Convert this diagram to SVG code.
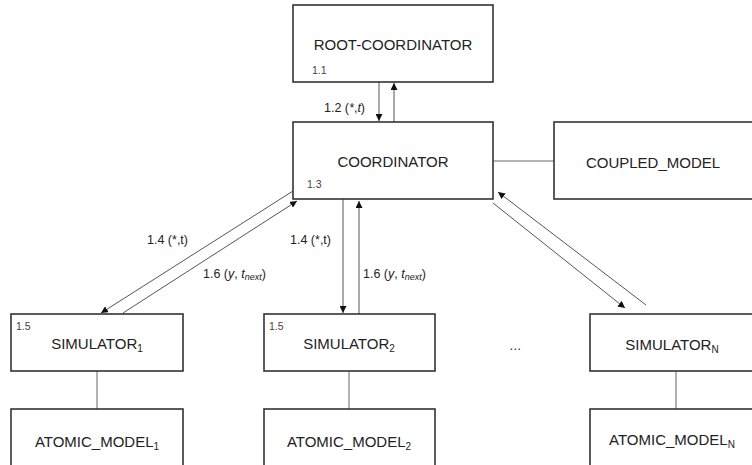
<svg xmlns="http://www.w3.org/2000/svg" width="752" height="465" viewBox="0 0 752 465">
<style>
.box{fill:#fff;stroke:#333;stroke-width:1.6}
.lbl{font-family:"Liberation Sans",Arial,sans-serif;font-size:15px;fill:#222;text-anchor:middle}
.num{font-family:"Liberation Sans",Arial,sans-serif;font-size:10.5px;fill:#444}
.msg{font-family:"Liberation Sans",Arial,sans-serif;font-size:12.5px;fill:#222}
.ln{stroke:#666;stroke-width:1;fill:none}
.ar{stroke:#555;stroke-width:1;fill:none;marker-end:url(#ah)}
</style>
<defs>
<marker id="ah" viewBox="0 0 10 10" refX="10" refY="5" markerWidth="7" markerHeight="7" markerUnits="userSpaceOnUse" orient="auto">
<path d="M0,0 L10,5 L0,10 z" fill="#111"/>
</marker>
</defs>
<rect width="752" height="465" fill="#fff"/>
<g id="connectors">
<line class="ar" x1="379" y1="82" x2="379" y2="121"/>
<line class="ar" x1="394" y1="122" x2="394" y2="83"/>
<line class="ln" x1="493" y1="161" x2="554" y2="161"/>
<line class="ar" x1="293" y1="191" x2="101" y2="313"/>
<line class="ar" x1="123" y1="313" x2="297" y2="201"/>
<line class="ar" x1="343" y1="199" x2="343" y2="313"/>
<line class="ar" x1="359" y1="314" x2="359" y2="201"/>
<line class="ar" x1="493" y1="203" x2="625" y2="308"/>
<line class="ar" x1="646" y1="305" x2="498" y2="192"/>
<line class="ln" x1="97" y1="371" x2="97" y2="409"/>
<line class="ln" x1="349" y1="371" x2="349" y2="409"/>
<line class="ln" x1="676" y1="371" x2="676" y2="409"/>
<text class="msg" x="324" y="112">1.2 (<tspan font-style="italic">*</tspan>,<tspan font-style="italic">t</tspan>)</text>
<text class="msg" x="147" y="244">1.4 (*,t)</text>
<text class="msg" x="203" y="278">1.6 (<tspan font-style="italic">y</tspan>, <tspan font-style="italic">t</tspan><tspan font-style="italic" font-size="9" dy="2">next</tspan><tspan dy="-2">)</tspan></text>
<text class="msg" x="290" y="244">1.4 (*,t)</text>
<text class="msg" x="363" y="278">1.6 (<tspan font-style="italic">y</tspan>, <tspan font-style="italic">t</tspan><tspan font-style="italic" font-size="9" dy="2">next</tspan><tspan dy="-2">)</tspan></text>
<text class="msg" x="509" y="350">…</text>
</g>
<g id="root">
<rect class="box" x="293" y="5" width="200" height="77"/>
<text class="lbl" x="393" y="50">ROOT-COORDINATOR</text>
<text class="num" x="312" y="74">1.1</text>
</g>
<g id="coordinator">
<rect class="box" x="293" y="122" width="200" height="77"/>
<text class="lbl" x="393" y="167">COORDINATOR</text>
<text class="num" x="307" y="188">1.3</text>
</g>
<g id="coupled_model">
<rect class="box" x="554" y="122" width="200" height="77"/>
<text class="lbl" x="653" y="168">COUPLED_MODEL</text>
</g>
<g id="simulator1">
<rect class="box" x="11" y="314" width="172" height="57"/>
<text class="lbl" x="97" y="349">SIMULATOR<tspan font-size="10" dy="3">1</tspan></text>
<text class="num" x="16" y="330">1.5</text>
</g>
<g id="simulator2">
<rect class="box" x="264" y="314" width="171" height="57"/>
<text class="lbl" x="349" y="349">SIMULATOR<tspan font-size="10" dy="3">2</tspan></text>
<text class="num" x="269" y="330">1.5</text>
</g>
<g id="simulatorN">
<rect class="box" x="590" y="314" width="170" height="57"/>
<text class="lbl" x="672" y="350">SIMULATOR<tspan font-size="10" dy="3">N</tspan></text>
</g>
<g id="atomic1">
<rect class="box" x="11" y="409" width="172" height="70"/>
<text class="lbl" x="97" y="447">ATOMIC_MODEL<tspan font-size="10" dy="3">1</tspan></text>
</g>
<g id="atomic2">
<rect class="box" x="264" y="409" width="171" height="70"/>
<text class="lbl" x="349" y="447">ATOMIC_MODEL<tspan font-size="10" dy="3">2</tspan></text>
</g>
<g id="atomicN">
<rect class="box" x="590" y="409" width="170" height="70"/>
<text class="lbl" x="672" y="445">ATOMIC_MODEL<tspan font-size="10" dy="3">N</tspan></text>
</g>
</svg>
